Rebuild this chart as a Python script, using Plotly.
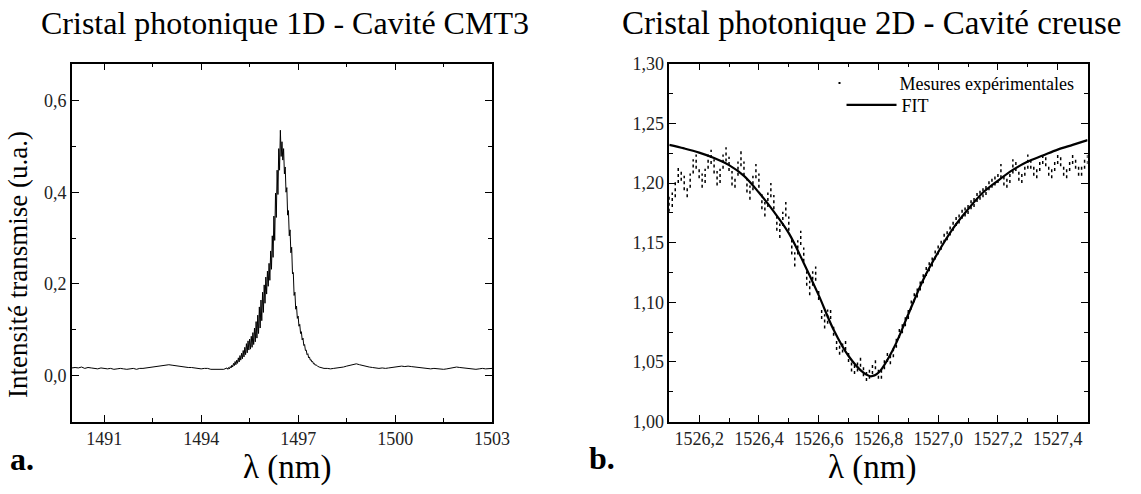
import plotly.graph_objects as go

# ---- a. cristal photonique 1D : spectre de transmission ----
lambda_1d = [
    1490.0, 1490.1, 1490.2, 1490.3, 1490.4, 1490.5, 1490.6, 1490.7, 1490.8, 1490.9,
    1491.0, 1491.1, 1491.2, 1491.3, 1491.4, 1491.5, 1491.6, 1491.7, 1491.8, 1491.9,
    1492.0, 1492.1, 1492.2, 1492.3, 1492.4, 1492.5, 1492.6, 1492.7, 1492.8, 1492.9,
    1493.0, 1493.1, 1493.2, 1493.3, 1493.4, 1493.5, 1493.6, 1493.7, 1493.8, 1493.9,
    1494.0, 1494.1, 1494.2, 1494.3, 1494.4, 1494.5, 1494.6, 1494.7,
    1494.800, 1494.825, 1494.850, 1494.875, 1494.900, 1494.925, 1494.950, 1494.975,
    1495.000, 1495.025, 1495.050, 1495.075, 1495.100, 1495.125, 1495.150, 1495.175,
    1495.200, 1495.225, 1495.250, 1495.275, 1495.300, 1495.325, 1495.350, 1495.375,
    1495.400, 1495.425, 1495.450, 1495.475, 1495.500, 1495.525, 1495.550, 1495.575,
    1495.600, 1495.625, 1495.650, 1495.675, 1495.700, 1495.725, 1495.750, 1495.775,
    1495.800, 1495.825, 1495.850, 1495.875, 1495.900, 1495.925, 1495.950, 1495.975,
    1496.000, 1496.025, 1496.050, 1496.075, 1496.100, 1496.125, 1496.150, 1496.175,
    1496.200, 1496.225, 1496.250, 1496.275, 1496.300, 1496.325, 1496.350, 1496.375,
    1496.400, 1496.425, 1496.450, 1496.475, 1496.500, 1496.525, 1496.550, 1496.575,
    1496.600, 1496.625, 1496.650, 1496.675, 1496.700, 1496.725, 1496.750, 1496.775,
    1496.800, 1496.825, 1496.850, 1496.875, 1496.900, 1496.925, 1496.950, 1496.975,
    1497.000, 1497.025, 1497.050, 1497.075, 1497.100, 1497.125, 1497.150, 1497.175,
    1497.200, 1497.225, 1497.250, 1497.275, 1497.300, 1497.325, 1497.350, 1497.375,
    1497.400, 1497.425, 1497.450, 1497.475, 1497.500, 1497.525, 1497.550, 1497.575,
    1497.600, 1497.650, 1497.700, 1497.800,
    1497.9, 1498.0, 1498.1, 1498.2, 1498.3, 1498.4, 1498.5, 1498.6, 1498.7, 1498.8,
    1498.9, 1499.0, 1499.1, 1499.2, 1499.3, 1499.4, 1499.5, 1499.6, 1499.7, 1499.8,
    1499.9, 1500.0, 1500.1, 1500.2, 1500.3, 1500.4, 1500.5, 1500.6, 1500.7, 1500.8,
    1500.9, 1501.0, 1501.1, 1501.2, 1501.3, 1501.4, 1501.5, 1501.6, 1501.7, 1501.8,
    1501.9, 1502.0, 1502.1, 1502.2, 1502.3, 1502.4, 1502.5, 1502.6, 1502.7, 1502.8,
    1502.9, 1503.0,
]
intensite_1d = [
    0.017, 0.018, 0.017, 0.019, 0.016, 0.018, 0.017, 0.016, 0.015, 0.017,
    0.016, 0.015, 0.016, 0.014, 0.015, 0.016, 0.015, 0.014, 0.015, 0.016,
    0.014, 0.016, 0.016, 0.017, 0.017, 0.018, 0.019, 0.021, 0.022, 0.023,
    0.024, 0.023, 0.022, 0.021, 0.019, 0.019, 0.018, 0.018, 0.017, 0.016,
    0.015, 0.016, 0.016, 0.014, 0.014, 0.013, 0.013, 0.014,
    0.017, 0.014, 0.018, 0.015, 0.020, 0.017, 0.023, 0.019,
    0.027, 0.022, 0.031, 0.024, 0.034, 0.027, 0.039, 0.030,
    0.044, 0.034, 0.049, 0.037, 0.055, 0.041, 0.062, 0.046,
    0.070, 0.050, 0.076, 0.056, 0.080, 0.058, 0.086, 0.062,
    0.094, 0.068, 0.104, 0.074, 0.118, 0.082, 0.132, 0.092,
    0.150, 0.104, 0.165, 0.120, 0.182, 0.138, 0.198, 0.158,
    0.215, 0.178, 0.228, 0.195, 0.245, 0.208, 0.272, 0.232,
    0.305, 0.258, 0.348, 0.295, 0.398, 0.345, 0.448, 0.395,
    0.495, 0.448, 0.535, 0.478, 0.510, 0.470, 0.495, 0.440,
    0.455, 0.400, 0.410, 0.350, 0.360, 0.305, 0.318, 0.268,
    0.280, 0.222, 0.225, 0.175, 0.182, 0.145, 0.152, 0.125,
    0.130, 0.108, 0.112, 0.092, 0.096, 0.078, 0.082, 0.066,
    0.068, 0.055, 0.056, 0.046, 0.048, 0.039, 0.041, 0.034,
    0.035, 0.030, 0.031, 0.026, 0.027, 0.023, 0.024, 0.021,
    0.021, 0.019, 0.018, 0.016,
    0.016, 0.015, 0.016, 0.017, 0.017, 0.019, 0.021, 0.023, 0.025, 0.026,
    0.024, 0.022, 0.020, 0.019, 0.018, 0.017, 0.016, 0.017, 0.016, 0.017,
    0.018, 0.019, 0.020, 0.021, 0.020, 0.021, 0.020, 0.019, 0.018, 0.017,
    0.016, 0.016, 0.015, 0.016, 0.015, 0.014, 0.014, 0.015, 0.016, 0.018,
    0.019, 0.018, 0.017, 0.016, 0.015, 0.015, 0.014, 0.015, 0.016, 0.015,
    0.015, 0.016,
]

# ---- b. cristal photonique 2D : mesures (min / max de chaque colonne) + fit ----
lambda_2d = [
    1526.10, 1526.11, 1526.12, 1526.13, 1526.14, 1526.15, 1526.16, 1526.17, 1526.18, 1526.19,
    1526.20, 1526.21, 1526.22, 1526.23, 1526.24, 1526.25, 1526.26, 1526.27, 1526.28, 1526.29,
    1526.30, 1526.31, 1526.32, 1526.33, 1526.34, 1526.35, 1526.36, 1526.37, 1526.38, 1526.39,
    1526.40, 1526.41, 1526.42, 1526.43, 1526.44, 1526.45, 1526.46, 1526.47, 1526.48, 1526.49,
    1526.50, 1526.51, 1526.52, 1526.53, 1526.54, 1526.55, 1526.56, 1526.57, 1526.58, 1526.59,
    1526.60, 1526.61, 1526.62, 1526.63, 1526.64, 1526.65, 1526.66, 1526.67, 1526.68, 1526.69,
    1526.70, 1526.71, 1526.72, 1526.73, 1526.74, 1526.75, 1526.76, 1526.77, 1526.78, 1526.79,
    1526.80, 1526.81, 1526.82, 1526.83, 1526.84, 1526.85, 1526.86, 1526.87, 1526.88, 1526.89,
    1526.90, 1526.91, 1526.92, 1526.93, 1526.94, 1526.95, 1526.96, 1526.97, 1526.98, 1526.99,
    1527.00, 1527.01, 1527.02, 1527.03, 1527.04, 1527.05, 1527.06, 1527.07, 1527.08, 1527.09,
    1527.10, 1527.11, 1527.12, 1527.13, 1527.14, 1527.15, 1527.16, 1527.17, 1527.18, 1527.19,
    1527.20, 1527.21, 1527.22, 1527.23, 1527.24, 1527.25, 1527.26, 1527.27, 1527.28, 1527.29,
    1527.30, 1527.31, 1527.32, 1527.33, 1527.34, 1527.35, 1527.36, 1527.37, 1527.38, 1527.39,
    1527.40, 1527.41, 1527.42, 1527.43, 1527.44, 1527.45, 1527.46, 1527.47, 1527.48, 1527.49,
    1527.50,
]
mesure_bas = [
    1.176, 1.180, 1.188, 1.200, 1.202, 1.194, 1.188, 1.196, 1.208, 1.212,
    1.204, 1.196, 1.200, 1.212, 1.216, 1.208, 1.198, 1.200, 1.212, 1.218,
    1.210, 1.198, 1.196, 1.206, 1.214, 1.206, 1.192, 1.186, 1.194, 1.204,
    1.196, 1.178, 1.172, 1.180, 1.188, 1.178, 1.160, 1.154, 1.164, 1.172,
    1.160, 1.140, 1.130, 1.140, 1.148, 1.134, 1.114, 1.106, 1.114, 1.118,
    1.102, 1.086, 1.078, 1.082, 1.086, 1.072, 1.060, 1.056, 1.058, 1.060,
    1.050, 1.042, 1.040, 1.042, 1.046, 1.038, 1.034, 1.036, 1.040, 1.044,
    1.036, 1.036, 1.044, 1.050, 1.048, 1.054, 1.062, 1.070, 1.074, 1.080,
    1.086, 1.094, 1.100, 1.104, 1.110, 1.116, 1.122, 1.126, 1.130, 1.136,
    1.140, 1.144, 1.150, 1.152, 1.156, 1.160, 1.164, 1.166, 1.170, 1.172,
    1.174, 1.178, 1.180, 1.184, 1.186, 1.188, 1.190, 1.194, 1.196, 1.198,
    1.200, 1.204, 1.198, 1.196, 1.200, 1.208, 1.210, 1.202, 1.200, 1.206,
    1.212, 1.212, 1.206, 1.204, 1.210, 1.216, 1.214, 1.206, 1.204, 1.210,
    1.216, 1.214, 1.206, 1.204, 1.210, 1.216, 1.212, 1.206, 1.206, 1.212,
    1.216,
]
mesure_haut = [
    1.190, 1.192, 1.202, 1.214, 1.212, 1.206, 1.198, 1.208, 1.220, 1.224,
    1.214, 1.208, 1.212, 1.224, 1.228, 1.220, 1.210, 1.212, 1.224, 1.230,
    1.222, 1.210, 1.206, 1.218, 1.228, 1.218, 1.204, 1.198, 1.206, 1.216,
    1.208, 1.192, 1.184, 1.192, 1.200, 1.190, 1.174, 1.166, 1.176, 1.184,
    1.172, 1.154, 1.142, 1.152, 1.160, 1.146, 1.126, 1.118, 1.126, 1.130,
    1.112, 1.096, 1.090, 1.094, 1.096, 1.082, 1.070, 1.066, 1.068, 1.070,
    1.060, 1.052, 1.048, 1.052, 1.054, 1.046, 1.042, 1.044, 1.048, 1.052,
    1.044, 1.046, 1.054, 1.060, 1.058, 1.064, 1.072, 1.080, 1.084, 1.090,
    1.096, 1.104, 1.110, 1.114, 1.120, 1.126, 1.132, 1.136, 1.140, 1.146,
    1.150, 1.154, 1.160, 1.162, 1.166, 1.170, 1.172, 1.176, 1.178, 1.182,
    1.184, 1.186, 1.190, 1.192, 1.194, 1.196, 1.198, 1.202, 1.204, 1.206,
    1.208, 1.216, 1.208, 1.204, 1.210, 1.220, 1.220, 1.212, 1.208, 1.216,
    1.224, 1.222, 1.214, 1.212, 1.220, 1.226, 1.224, 1.214, 1.212, 1.220,
    1.226, 1.222, 1.214, 1.212, 1.220, 1.226, 1.222, 1.214, 1.214, 1.222,
    1.226,
]
lambda_fit = [
    1526.10, 1526.15, 1526.20, 1526.25, 1526.30, 1526.35, 1526.40, 1526.45, 1526.50, 1526.55,
    1526.60, 1526.65, 1526.70, 1526.75, 1526.775, 1526.80, 1526.85, 1526.90, 1526.95, 1527.00,
    1527.05, 1527.10, 1527.15, 1527.20, 1527.25, 1527.30, 1527.35, 1527.40, 1527.45, 1527.50,
]
fit = [
    1.232, 1.229, 1.2255, 1.221, 1.215, 1.206, 1.192, 1.176, 1.158, 1.133,
    1.106, 1.077, 1.055, 1.041, 1.038, 1.041, 1.061, 1.090, 1.119, 1.142,
    1.162, 1.178, 1.192, 1.202, 1.211, 1.218, 1.223, 1.228, 1.232, 1.236,
]

W, H = 1141, 494
POLICE = "Liberation Serif"

# cadres des deux graphes, en pixels
gx0, gx1 = 73, 500
dx0, dx1 = 680, 1105
ytop, ybot = 56, 429

fig = go.Figure()

fig.add_trace(go.Scatter(
    x=lambda_1d, y=intensite_1d, mode="lines",
    line=dict(color="black", width=1), showlegend=False,
    xaxis="x", yaxis="y",
))

# chaque colonne de mesures = petit segment vertical pointillé
xs, ys = [], []
for l, lo, hi in zip(lambda_2d, mesure_bas, mesure_haut):
    xs += [l, l, None]
    ys += [lo, hi, None]
fig.add_trace(go.Scatter(
    x=xs, y=ys, mode="lines", line=dict(color="black", width=1.5, dash="dot"),
    showlegend=False, xaxis="x2", yaxis="y2",
))
fig.add_trace(go.Scatter(
    x=[None], y=[None], mode="markers", name="Mesures expérimentales",
    marker=dict(color="black", size=2, symbol="square"),
    xaxis="x2", yaxis="y2", legend="legend",
))
fig.add_trace(go.Scatter(
    x=lambda_fit, y=fit, mode="lines", name="FIT", line_shape="spline",
    line=dict(color="black", width=2.2), xaxis="x2", yaxis="y2", legend="legend2",
))

axe = dict(
    showline=True, linecolor="black", linewidth=1.5, mirror="ticks",
    ticks="inside", ticklen=7, tickwidth=1.2, tickcolor="black",
    showgrid=False, zeroline=False,
    tickfont=dict(family=POLICE, size=18, color="#222"),
    minor=dict(ticks="inside", ticklen=4, tickwidth=1, tickcolor="black"),
)
leg = dict(xanchor="left", yanchor="top", bgcolor="rgba(0,0,0,0)",
           font=dict(family=POLICE, size=18, color="black"))

fig.update_layout(
    width=W, height=H,
    margin=dict(l=0, r=0, t=0, b=0),
    paper_bgcolor="white", plot_bgcolor="white",
    separators=", ",
    font=dict(family=POLICE, color="black"),
    xaxis=dict(axe, domain=[gx0 / W, gx1 / W], range=[1490, 1503],
               tickvals=[1491, 1494, 1497, 1500, 1503], tickformat="d",
               minor=dict(axe["minor"], tickvals=[1492.5, 1495.5, 1498.5, 1501.5])),
    yaxis=dict(axe, domain=[1 - ybot / H, 1 - ytop / H], range=[-0.1, 0.68],
               tickvals=[0, 0.2, 0.4, 0.6], tickformat=".1f",
               minor=dict(axe["minor"], tickvals=[-0.1, 0.1, 0.3, 0.5])),
    xaxis2=dict(axe, domain=[dx0 / W, dx1 / W], range=[1526.1, 1527.5],
                dtick=0.2, tick0=1526.2, tickformat=".1f", anchor="y2",
                minor=dict(axe["minor"], dtick=0.1)),
    yaxis2=dict(axe, domain=[1 - ybot / H, 1 - ytop / H], range=[1.0, 1.3],
                dtick=0.05, tick0=1.0, tickformat=".2f", anchor="x2",
                minor=dict(axe["minor"], dtick=0.025)),
    legend=dict(leg, x=792 / W, y=1 - 57 / H, itemwidth=110),
    legend2=dict(leg, x=855 / W, y=1 - 80 / H, itemwidth=50),
)

annots = [
    dict(text="Cristal photonique 1D - Cavité CMT3", x=290 / W, y=1 - 14 / H, size=32),
    dict(text="Cristal photonique 2D - Cavité creuse", x=885 / W, y=1 - 14 / H, size=33),
    dict(text="λ (nm)", x=292 / W, y=1 - 477 / H, size=33),
    dict(text="λ (nm)", x=886 / W, y=1 - 477 / H, size=33),
    dict(text="<b>a.</b>", x=22 / W, y=1 - 468 / H, size=32),
    dict(text="<b>b.</b>", x=612 / W, y=1 - 467 / H, size=32),
]
for a in annots:
    fig.add_annotation(text=a["text"], x=a["x"], y=a["y"], xref="paper", yref="paper",
                       showarrow=False, xanchor="center", yanchor="middle",
                       font=dict(family=POLICE, size=a["size"], color="black"))
fig.add_annotation(text="Intensité transmise (u.a.)", x=19 / W, y=1 - 265 / H,
                   xref="paper", yref="paper", showarrow=False, textangle=-90,
                   xanchor="center", yanchor="middle",
                   font=dict(family=POLICE, size=27, color="black"))

fig.write_html("out.html", config={"displayModeBar": False},
               post_script="document.body.style.margin='0';")
